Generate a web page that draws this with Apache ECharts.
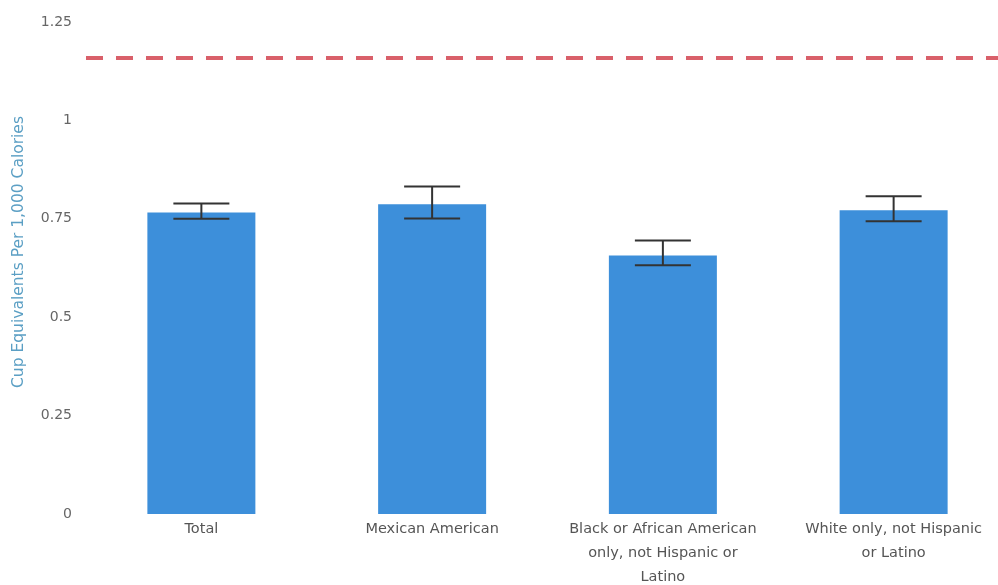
<!DOCTYPE html>
<html><head><meta charset="utf-8">
<script src="https://cdn.jsdelivr.net/npm/echarts@6/dist/echarts.min.js"></script>
<style>html,body{margin:0;padding:0;background:#fff}#c{width:998px;height:585px}</style>
</head><body><div id="c"></div>
<script>
const categories = ["Total", "Mexican American", "Black or African American\nonly, not Hispanic or\nLatino", "White only, not Hispanic\nor Latino"];
const values = [0.766, 0.787, 0.657, 0.772];
const errLow = [0.750, 0.751, 0.632, 0.744];
const errHigh = [0.789, 0.832, 0.695, 0.807];
const referenceValue = 1.16;
const yTicks = [0, 0.25, 0.5, 0.75, 1, 1.25];
const yAxisTitle = 'Cup Equivalents Per 1,000 Calories';

const chart = echarts.init(document.getElementById('c'));
chart.setOption({
  animation: false,
  grid: {left: 86, top: 22, width: 923, height: 492, containLabel: false, outerBoundsMode: 'none'},
  graphic: [{
    type: 'text', x: 11, y: 252, rotation: Math.PI / 2,
    style: {text: yAxisTitle, fill: '#5b9fc4', font: '15.5px "DejaVu Sans"', align: 'center', verticalAlign: 'top'}
  }],
  xAxis: {
    type: 'category', data: categories,
    axisLine: {show: false}, axisTick: {show: false},
    axisLabel: {color: '#555', fontFamily: 'DejaVu Sans', fontSize: 14.5, lineHeight: 24, margin: 3, interval: 0}
  },
  yAxis: {
    type: 'value', min: 0, max: 1.25, interval: 0.25,
    axisLine: {show: false}, axisTick: {show: false}, splitLine: {show: false},
    axisLabel: {color: '#666', fontFamily: 'DejaVu Sans', fontSize: 14, margin: 14,
      formatter: v => yTicks.includes(v) ? String(v) : ''}
  },
  series: [
    {
      type: 'bar', data: values, barWidth: 108,
      itemStyle: {color: '#3d8fda'},
      markLine: {
        silent: true, symbol: 'none', label: {show: false},
        lineStyle: {color: '#d9606a', width: 4, type: [17, 13]},
        data: [{yAxis: referenceValue}]
      }
    },
    {
      type: 'custom',
      data: categories.map((c, i) => [i, errLow[i], errHigh[i]]),
      renderItem: function (params, api) {
        const x = api.value(0);
        const lo = api.coord([x, api.value(1)]);
        const hi = api.coord([x, api.value(2)]);
        const hw = 28;
        const st = {stroke: '#333', lineWidth: 2};
        return {type: 'group', children: [
          {type: 'line', shape: {x1: lo[0], y1: lo[1], x2: hi[0], y2: hi[1]}, style: st},
          {type: 'line', shape: {x1: lo[0] - hw, y1: lo[1], x2: lo[0] + hw, y2: lo[1]}, style: st},
          {type: 'line', shape: {x1: hi[0] - hw, y1: hi[1], x2: hi[0] + hw, y2: hi[1]}, style: st}
        ]};
      },
      z: 5
    }
  ]
});
</script></body></html>
